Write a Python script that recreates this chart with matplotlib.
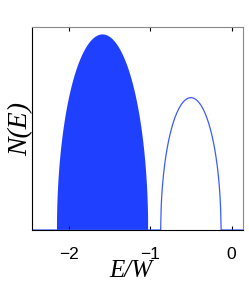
import matplotlib
matplotlib.use('Agg')
import matplotlib.pyplot as plt
import numpy as np

plt.rcParams['font.family'] = ['Liberation Sans', 'DejaVu Sans']

# band edges and peak heights
band1_edges = [-2.15, -1.03]   # filled band
band1_peak = 0.966
band2_edges = [-0.87, -0.13]   # outlined band
band2_peak = 0.652

x_ticks = [-2, -1, 0]
x_tick_labels = ['\u22122', '\u22121', '0']


def band(x, edges, peak):
    lo, hi = edges
    c = 0.5 * (lo + hi)
    r = 0.5 * (hi - lo)
    u = np.clip(1 - ((x - c) / r) ** 2, 0, None)
    return peak * np.sqrt(u)


x = np.linspace(-2.45, 0.15, 2000)
y1 = band(x, band1_edges, band1_peak)
y2 = band(x, band2_edges, band2_peak)

fig = plt.figure(figsize=(2.49, 2.89), dpi=100)
ax = fig.add_axes([32 / 249, 1 - 230 / 289, 211 / 249, 203 / 289])

ax.fill_between(x, 0, y1, where=y1 > 0, color='#2040ff', linewidth=0)
ax.plot(x, y2, color='#3a5cff', linewidth=0.9)

ax.set_xlim(-2.45, 0.14)
ax.set_ylim(0, 1.0)
ax.set_xticks(x_ticks)
ax.set_xticklabels(x_tick_labels, fontsize=12.5)
ax.set_yticks([])
ax.tick_params(axis='x', direction='in', length=3, top=True, pad=12)
for s in ['top', 'right']:
    ax.spines[s].set_color('#888888')
for s in ax.spines.values():
    s.set_linewidth(0.8)

serif = dict(family='Liberation Serif', style='italic')
ax.set_xlabel('E/W', fontsize=18, **serif)
ax.xaxis.set_label_coords(0.47, -0.15)
ax.set_ylabel('N(E)', fontsize=20, labelpad=-1, **serif)

fig.savefig('out.png', dpi=100)
